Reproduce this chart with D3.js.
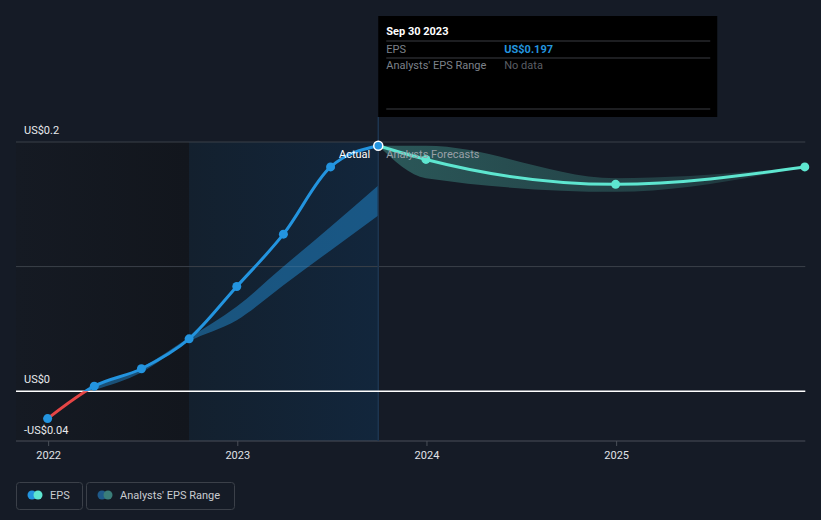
<!DOCTYPE html>
<html>
<head>
<meta charset="utf-8">
<script src="https://cdn.jsdelivr.net/npm/d3@7"></script>
<style>
  html, body { margin: 0; padding: 0; background: #151b26; }
  svg { display: block; font-family: Roboto, "Noto Sans", sans-serif; }
</style>
</head>
<body>
<svg id="chart" width="821" height="520"></svg>
<script>
// ---- data ----
const actualDates = ["2021-12-31","2022-03-31","2022-06-30","2022-09-30","2022-12-31","2023-03-31","2023-06-30","2023-09-30"];
const actualEPS   = [-0.022, 0.004, 0.018, 0.042, 0.084, 0.126, 0.180, 0.197];

const pastRangeDates = ["2022-03-31","2022-06-30","2022-09-30","2022-12-31","2023-03-31","2023-06-30","2023-09-30"];
const pastRangeLow   = [0.001, 0.015, 0.040, 0.057, 0.085, 0.113, 0.141];
const pastRangeHigh  = [0.004, 0.019, 0.043, 0.068, 0.100, 0.132, 0.165];

const forecastDates = ["2023-09-30","2023-12-31","2024-12-31","2025-12-31"];
const forecastEPS   = [0.197, 0.186, 0.166, 0.180];
const forecastLow   = [0.197, 0.171, 0.160, 0.180];
const forecastHigh  = [0.197, 0.197, 0.171, 0.180];

const xTickLabels = ["2022", "2023", "2024", "2025"];
const yLabelValues = [0.2, 0, -0.04];
const gridValues = [0.2, 0.1];
const xDomain = ["2021-10-31", "2026-01-01"];
const pastStart = "2022-09-30";
const todayDate = "2023-09-30";

const tooltipTitle = "Sep 30 2023";
const tooltipRows = [["EPS", "US$0.197"], ["Analysts' EPS Range", "No data"]];
const legendItems = ["EPS", "Analysts' EPS Range"];

// ---- setup ----
(function () {
const parse = d3.timeParse("%Y-%m-%d");
const svg = d3.select("#chart");
const W = 821, H = 520;
const pL = 16, pR = 805.3, pT = 142, pB = 441;

const x = d3.scaleTime().domain(xDomain.map(parse)).range([pL, pR]);
const y = d3.scaleLinear().domain([-0.04, 0.2]).range([pB, pT]);

const defs = svg.append("defs");
svg.append("rect").attr("width", W).attr("height", H).attr("fill", "#151b26");

// background regions
const gL = defs.append("linearGradient").attr("id", "gLeft");
gL.append("stop").attr("offset", "0%").attr("stop-color", "#151a23");
gL.append("stop").attr("offset", "100%").attr("stop-color", "#12161d");
const gP = defs.append("linearGradient").attr("id", "gPast");
gP.append("stop").attr("offset", "0%").attr("stop-color", "#13202e");
gP.append("stop").attr("offset", "100%").attr("stop-color", "#12263c");

svg.append("rect").attr("x", pL).attr("y", pT).attr("width", x(parse(pastStart)) - pL)
  .attr("height", pB - pT).attr("fill", "url(#gLeft)");
svg.append("rect").attr("x", x(parse(pastStart))).attr("y", pT)
  .attr("width", x(parse(todayDate)) - x(parse(pastStart))).attr("height", pB - pT)
  .attr("fill", "url(#gPast)");

// grid lines
svg.selectAll("line.grid").data(gridValues).join("line")
  .attr("x1", pL).attr("x2", pR).attr("y1", d => y(d)).attr("y2", d => y(d))
  .attr("stroke", "#3b4049").attr("stroke-width", 1);

// bottom axis
const yearParse = d3.timeParse("%Y");
const xAxis = d3.axisBottom(x).tickValues(xTickLabels.map(yearParse)).tickFormat(d3.timeFormat("%Y"))
  .tickSize(5).tickPadding(5);
const ax = svg.append("g").attr("transform", `translate(0,${pB})`).call(xAxis);
ax.select(".domain").remove();
ax.selectAll(".tick line").attr("stroke", "#4a4f58");
ax.selectAll(".tick text").attr("fill", "#e0e2e6").attr("font-size", 11).attr("font-family", "Roboto, sans-serif");
svg.append("line").attr("x1", pL).attr("x2", pR).attr("y1", pB).attr("y2", pB)
  .attr("stroke", "#4a4f58").attr("stroke-width", 1.2);

// past analyst range band
const pastBand = pastRangeDates.map((d, i) => ({ date: parse(d), lo: pastRangeLow[i], hi: pastRangeHigh[i] }));
svg.append("path").datum(pastBand)
  .attr("d", d3.area().x(d => x(d.date)).y0(d => y(d.lo)).y1(d => y(d.hi)).curve(d3.curveMonotoneX))
  .attr("fill", "#2394df").attr("fill-opacity", 0.45);

// forecast band
const gF = defs.append("linearGradient").attr("id", "gFore");
gF.append("stop").attr("offset", "0%").attr("stop-color", "#5ee6d0").attr("stop-opacity", 0.3);
gF.append("stop").attr("offset", "100%").attr("stop-color", "#5ee6d0").attr("stop-opacity", 0.12);
const foreBand = forecastDates.map((d, i) => ({ date: parse(d), lo: forecastLow[i], hi: forecastHigh[i] }));
svg.append("path").datum(foreBand)
  .attr("d", d3.area().x(d => x(d.date)).y0(d => y(d.lo)).y1(d => y(d.hi)).curve(d3.curveMonotoneX))
  .attr("fill", "url(#gFore)");

// today vertical line
svg.append("line").attr("x1", x(parse(todayDate))).attr("x2", x(parse(todayDate)))
  .attr("y1", 117).attr("y2", pB).attr("stroke", "#1d3550").attr("stroke-width", 1.5);

// zero line
svg.append("line").attr("x1", pL).attr("x2", pR).attr("y1", y(0)).attr("y2", y(0))
  .attr("stroke", "#ffffff").attr("stroke-width", 1.5);

// actual line (red below zero, blue above)
const actual = actualDates.map((d, i) => ({ date: parse(d), v: actualEPS[i] }));
const lineGen = d3.line().x(d => x(d.date)).y(d => y(d.v)).curve(d3.curveMonotoneX);
defs.append("clipPath").attr("id", "above").append("rect")
  .attr("x", 0).attr("y", 0).attr("width", W).attr("height", y(0));
defs.append("clipPath").attr("id", "below").append("rect")
  .attr("x", 0).attr("y", y(0)).attr("width", W).attr("height", H - y(0));
svg.append("path").datum(actual).attr("d", lineGen).attr("fill", "none")
  .attr("stroke", "#2394df").attr("stroke-width", 3).attr("clip-path", "url(#above)");
svg.append("path").datum(actual).attr("d", lineGen).attr("fill", "none")
  .attr("stroke", "#e64545").attr("stroke-width", 3).attr("clip-path", "url(#below)");

// forecast line
const fore = forecastDates.map((d, i) => ({ date: parse(d), v: forecastEPS[i] }));
svg.append("path").datum(fore).attr("d", lineGen).attr("fill", "none")
  .attr("stroke", "#5ee6d0").attr("stroke-width", 3);

// points
svg.selectAll("circle.fp").data(fore.slice(1)).join("circle")
  .attr("cx", d => x(d.date)).attr("cy", d => y(d.v)).attr("r", 4.5).attr("fill", "#5ee6d0");
svg.selectAll("circle.ap").data(actual.slice(0, -1)).join("circle")
  .attr("cx", d => x(d.date)).attr("cy", d => y(d.v)).attr("r", 4.5).attr("fill", "#2394df");
const last = actual[actual.length - 1];
svg.append("circle").attr("cx", x(last.date)).attr("cy", y(last.v)).attr("r", 4.5)
  .attr("fill", "#2394df").attr("stroke", "#ffffff").attr("stroke-width", 1.5);

// labels Actual / Analysts Forecasts
svg.append("text").attr("x", x(last.date) - 8).attr("y", 158).attr("text-anchor", "end")
  .attr("fill", "#ffffff").attr("font-size", 11).text("Actual");
svg.append("text").attr("x", x(last.date) + 8).attr("y", 158)
  .attr("fill", "#9aa0a8").attr("font-size", 11).text("Analysts Forecasts");

// y labels
const fmtY = v => v === 0 ? "US$0" : (v < 0 ? "-US$" + Math.abs(v) : "US$" + v);
svg.selectAll("text.ylab").data(yLabelValues).join("text")
  .attr("x", 24).attr("y", d => y(d) - (d < 0 ? 7 : 8))
  .attr("fill", "#e8eaed").attr("font-size", 11).text(fmtY);

// tooltip
const tx = x(parse(todayDate));
const tt = svg.append("g");
tt.append("rect").attr("x", tx).attr("y", 16).attr("width", 339).attr("height", 101).attr("fill", "#000000");
tt.append("text").attr("x", tx + 8).attr("y", 35).attr("fill", "#ffffff").attr("font-size", 11)
  .attr("font-weight", "bold").text(tooltipTitle);
[41, 58, 109].forEach(yy => tt.append("line").attr("x1", tx + 8).attr("x2", tx + 332)
  .attr("y1", yy).attr("y2", yy).attr("stroke", "#3a3d42").attr("stroke-width", 1));
tooltipRows.forEach((r, i) => {
  const by = 53 + i * 16;
  tt.append("text").attr("x", tx + 8).attr("y", by).attr("fill", "#7d828a").attr("font-size", 11).text(r[0]);
  tt.append("text").attr("x", tx + 126).attr("y", by)
    .attr("fill", i === 0 ? "#2394df" : "#5a5e64").attr("font-size", 11)
    .attr("font-weight", i === 0 ? "bold" : "normal").text(r[1]);
});

// legend
const legendBoxes = [{ x: 16, w: 66, c1: "#2394df", c2: "#5ee6d0" }, { x: 86, w: 148, c1: "#1f5a8a", c2: "#3a7d79" }];
legendItems.forEach((t, i) => {
  const b = legendBoxes[i];
  const g = svg.append("g");
  g.append("rect").attr("x", b.x + 0.5).attr("y", 482.5).attr("width", b.w).attr("height", 27).attr("rx", 3)
    .attr("fill", "none").attr("stroke", "#3b4049");
  g.append("circle").attr("cx", b.x + 16).attr("cy", 495).attr("r", 4.5).attr("fill", b.c1);
  g.append("circle").attr("cx", b.x + 22).attr("cy", 495).attr("r", 4.5).attr("fill", b.c2);
  g.append("text").attr("x", b.x + 34).attr("y", 499).attr("fill", "#c9ccd1").attr("font-size", 11).text(t);
});
})();
</script>
</body>
</html>
